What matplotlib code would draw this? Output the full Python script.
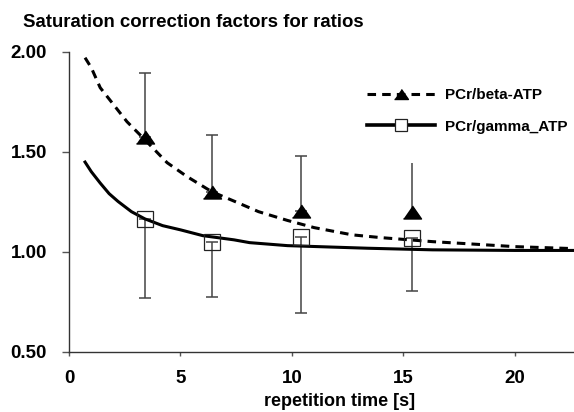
import matplotlib
matplotlib.use('Agg')
import matplotlib.pyplot as plt
from matplotlib.lines import Line2D

plt.rcParams['font.family'] = ['Liberation Sans', 'DejaVu Sans']
plt.rcParams['font.weight'] = 'bold'

# measured points (repetition time in s)
tr_points = [3.4, 6.4, 10.4, 15.4]
beta_values = [1.575, 1.30, 1.205, 1.20]
beta_err_up = [0.32, 0.285, 0.275, 0.245]
gamma_values = [1.165, 1.047, 1.073, 1.066]
gamma_err_down = [0.395, 0.275, 0.38, 0.262]

# fitted curves
beta_fit_t = [0.72, 1.0, 1.4, 2.0, 2.6, 3.4, 4.4, 5.3, 6.4, 7.5, 8.5, 9.8,
              11.0, 12.7, 14.0, 16.3, 17.8, 20.0, 22.65]
beta_fit = [1.97, 1.92, 1.82, 1.735, 1.65, 1.56, 1.445, 1.375, 1.30, 1.248,
            1.20, 1.156, 1.12, 1.084, 1.07, 1.05, 1.04, 1.025, 1.015]
gamma_fit_t = [0.72, 1.0, 1.4, 1.8, 2.2, 2.8, 3.4, 4.2, 5.0, 6.0, 7.4, 8.1,
               9.8, 13.4, 16.3, 20.0, 22.65]
gamma_fit = [1.448, 1.40, 1.343, 1.29, 1.251, 1.20, 1.164, 1.13, 1.109, 1.08,
             1.059, 1.045, 1.03, 1.017, 1.009, 1.006, 1.006]

labels = ['PCr/beta-ATP', 'PCr/gamma_ATP']
tri = [(-1, -0.72), (1, -0.72), (0, 0.72)]

fig = plt.figure(figsize=(5.74, 4.12), dpi=100)
ax = fig.add_axes([0.1202, 0.1466, 0.8798, 0.7279])

ax.plot(beta_fit_t, beta_fit, color='black', lw=2.2, ls=(0, (2.8, 2.0)), zorder=3)
ax.plot(gamma_fit_t, gamma_fit, color='black', lw=2.2, zorder=3)

# error bars: upper only for beta, lower only for gamma
ax.errorbar(tr_points[:3], beta_values[:3], yerr=[[0] * 3, beta_err_up[:3]],
            fmt='none', ecolor='#444444', elinewidth=1.1, capsize=4.3, capthick=1.1)
ax.errorbar(tr_points[3:], beta_values[3:], yerr=[[0], beta_err_up[3:]],
            fmt='none', ecolor='#444444', elinewidth=1.1, capsize=0)
ax.errorbar(tr_points, gamma_values, yerr=[gamma_err_down, [0] * 4],
            fmt='none', ecolor='#444444', elinewidth=1.1, capsize=4.3, capthick=1.1)

ax.plot(tr_points, beta_values, ls='none', marker=tri, markersize=13,
        color='black', zorder=4)
ax.plot(tr_points, gamma_values, ls='none', marker='s', markersize=11.5,
        markerfacecolor='none', markeredgecolor='#222222', markeredgewidth=0.9, zorder=4)

ax.set_xlim(0, 22.65)
ax.set_ylim(0.5, 2.0)
ax.set_xticks([0, 5, 10, 15, 20])
ax.set_yticks([0.5, 1.0, 1.5, 2.0])
ax.set_yticklabels(['%.2f' % v for v in [0.5, 1.0, 1.5, 2.0]])
ax.tick_params(axis='x', length=3, width=1, color='#555555', pad=10, labelsize=13.5)
ax.tick_params(axis='y', length=5, width=1, color='#555555', pad=11, labelsize=13.5)
for s in ['top', 'right']:
    ax.spines[s].set_visible(False)
for s in ['left', 'bottom']:
    ax.spines[s].set_color('#333333')
    ax.spines[s].set_linewidth(1)

ax.set_xlabel('repetition time [s]', fontsize=13, fontweight='bold')
ax.xaxis.set_label_coords(0.5356, -0.138)

fig.text(23 / 574, 1 - 27 / 412, 'Saturation correction factors for ratios',
         fontsize=13.4, fontweight='bold', va='baseline', ha='left')

handles = [
    Line2D([], [], color='black', lw=2.2, ls=(0, (2.8, 2.0)), marker=tri, markersize=10),
    Line2D([], [], color='black', lw=2.6, marker='s', markersize=8,
           markerfacecolor='white', markeredgecolor='#222222', markeredgewidth=0.9),
]
leg = ax.legend(handles, labels, loc='upper left', bbox_to_anchor=(367 / 574, 1 - 88 / 412),
                bbox_transform=fig.transFigure, frameon=False, fontsize=11,
                handlelength=4.45, handletextpad=0.65, labelspacing=1.15,
                borderpad=0, borderaxespad=0)
for t in leg.get_texts():
    t.set_fontweight('bold')

fig.savefig('out.png', dpi=100)
